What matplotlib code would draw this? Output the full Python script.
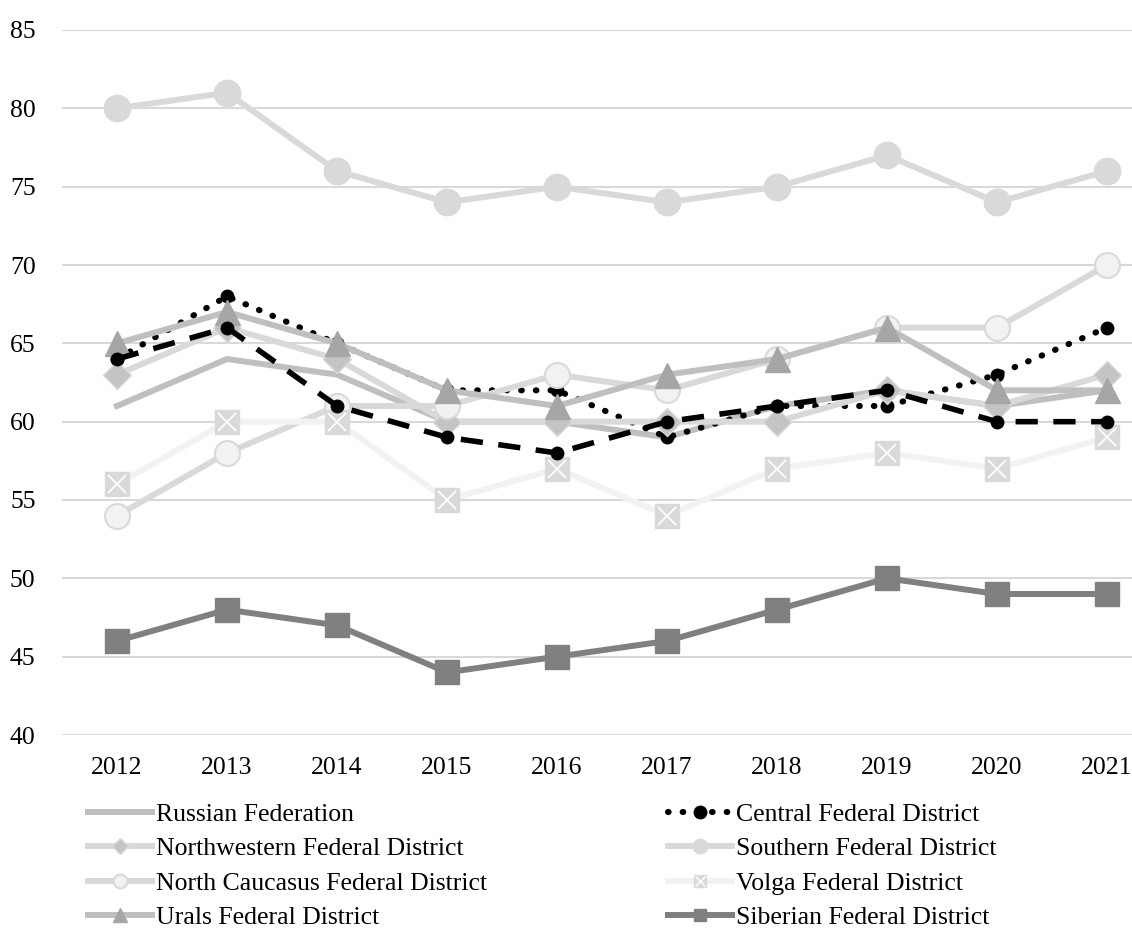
import matplotlib
matplotlib.use("Agg")
import matplotlib.pyplot as plt
from matplotlib.lines import Line2D

years = ["2012", "2013", "2014", "2015", "2016", "2017", "2018", "2019", "2020", "2021"]

russian_federation = [61, 64, 63, 60, 60, 59, 61, 62, 61, 62]
central = [64, 68, 65, 62, 62, 59, 61, 61, 63, 66]
northwestern = [63, 66, 64, 60, 60, 60, 60, 62, 61, 63]
southern = [80, 81, 76, 74, 75, 74, 75, 77, 74, 76]
north_caucasus = [54, 58, 61, 61, 63, 62, 64, 66, 66, 70]
volga = [56, 60, 60, 55, 57, 54, 57, 58, 57, 59]
urals = [65, 67, 65, 62, 61, 63, 64, 66, 62, 62]
siberian = [46, 48, 47, 44, 45, 46, 48, 50, 49, 49]
far_eastern = [64, 66, 61, 59, 58, 60, 61, 62, 60, 60]

labels = ["Russian Federation", "Central Federal District", "Northwestern Federal District",
          "Southern Federal District", "North Caucasus Federal District", "Volga Federal District",
          "Urals Federal District", "Siberian Federal District"]

plt.rcParams['font.family'] = ['Liberation Serif', 'DejaVu Serif']

FS = 18.5
W, H = 1132, 931
fig = plt.figure(figsize=(W / 100, H / 100), dpi=100)
ax = fig.add_axes([62 / W, (H - 735) / H, 1100 / W, 705 / H])

x = list(range(len(years)))

styles = {
    "rf": dict(color="#bfbfbf", lw=4.3, ls="-", marker=None),
    "central": dict(color="black", lw=4.4, ls=(0, (0.1, 2.3)), dash_capstyle="round",
                    marker="o", ms=10, mfc="black", mec="black", mew=0),
    "nw": dict(color="#d9d9d9", lw=4.3, ls="-", marker="D", ms=14, mfc="#c4c4c4", mec="#d9d9d9", mew=1),
    "southern": dict(color="#d9d9d9", lw=4.3, ls="-", marker="o", ms=19, mfc="#d9d9d9", mec="#d9d9d9", mew=1),
    "nc": dict(color="#d9d9d9", lw=4.3, ls="-", marker="o", ms=18, mfc="#f2f2f2", mec="#d9d9d9", mew=1.5),
    "volga": dict(color="#f2f2f2", lw=4.3, ls="-", marker="s", ms=17, mfc="#d9d9d9", mec="#d9d9d9", mew=1),
    "urals": dict(color="#bfbfbf", lw=4.3, ls="-", marker="^", ms=18, mfc="#a6a6a6", mec="#a6a6a6", mew=1),
    "siberian": dict(color="#808080", lw=4.3, ls="-", marker="s", ms=17, mfc="#808080", mec="#808080", mew=1),
    "fe": dict(color="black", lw=4.0, ls=(0, (4.0, 2.8)), marker="o", ms=10, mfc="black", mec="black", mew=0),
}
volga_x = dict(linestyle="none", marker="x", ms=13, mec="white", mew=1.3)

def draw(vals, st, z):
    s = dict(st)
    ls = s.pop("ls")
    ax.plot(x, vals, linestyle=ls, zorder=z, clip_on=False, **s)

draw(russian_federation, styles["rf"], 3)
draw(central, styles["central"], 4)
draw(northwestern, styles["nw"], 5)
draw(southern, styles["southern"], 6)
draw(north_caucasus, styles["nc"], 7)
draw(volga, styles["volga"], 8)
ax.plot(x, volga, zorder=8.5, clip_on=False, **volga_x)
draw(urals, styles["urals"], 9)
draw(siberian, styles["siberian"], 10)
draw(far_eastern, styles["fe"], 11)

ax.set_xlim(-0.5, len(years) - 0.5)
ax.set_ylim(40, 85)
ax.set_yticks(range(40, 86, 5))
ax.set_xticks(x)
ax.set_xticklabels(years)
ax.tick_params(axis="both", length=0, labelsize=FS)
ax.tick_params(axis="y", pad=19)
ax.tick_params(axis="x", pad=16)
ax.grid(axis="y", color="#d9d9d9", lw=1.5)
ax.set_axisbelow(True)
for sp in ax.spines.values():
    sp.set_visible(False)

def proxy(st, scale=0.55):
    s = dict(st)
    ls = s.pop("ls")
    if s.get("ms"):
        s["ms"] = s["ms"] * scale
    return Line2D([0], [0], linestyle=ls, **s)

vx = dict(volga_x)
vx["ms"] = vx["ms"] * 0.55
vx["mew"] = 1.0
volga_handle = (proxy(styles["volga"]), Line2D([0], [0], **vx))

left_handles = [proxy(styles["rf"]), proxy(styles["nw"]), proxy(styles["nc"]), proxy(styles["urals"])]
left_labels = [labels[0], labels[2], labels[4], labels[6]]
right_handles = [proxy(styles["central"], 1.0), proxy(styles["southern"]), volga_handle, proxy(styles["siberian"])]
right_labels = [labels[1], labels[3], labels[5], labels[7]]

common = dict(frameon=False, fontsize=FS, handlelength=2.5, handletextpad=0.15,
              labelspacing=0.44, borderaxespad=0, borderpad=0, loc="upper left")
fig.legend(left_handles, left_labels, bbox_to_anchor=(88 / W, 1 - 803 / H), **common)
fig.legend(right_handles, right_labels, bbox_to_anchor=(668 / W, 1 - 803 / H), **common)

fig.savefig("out.png", dpi=100)
